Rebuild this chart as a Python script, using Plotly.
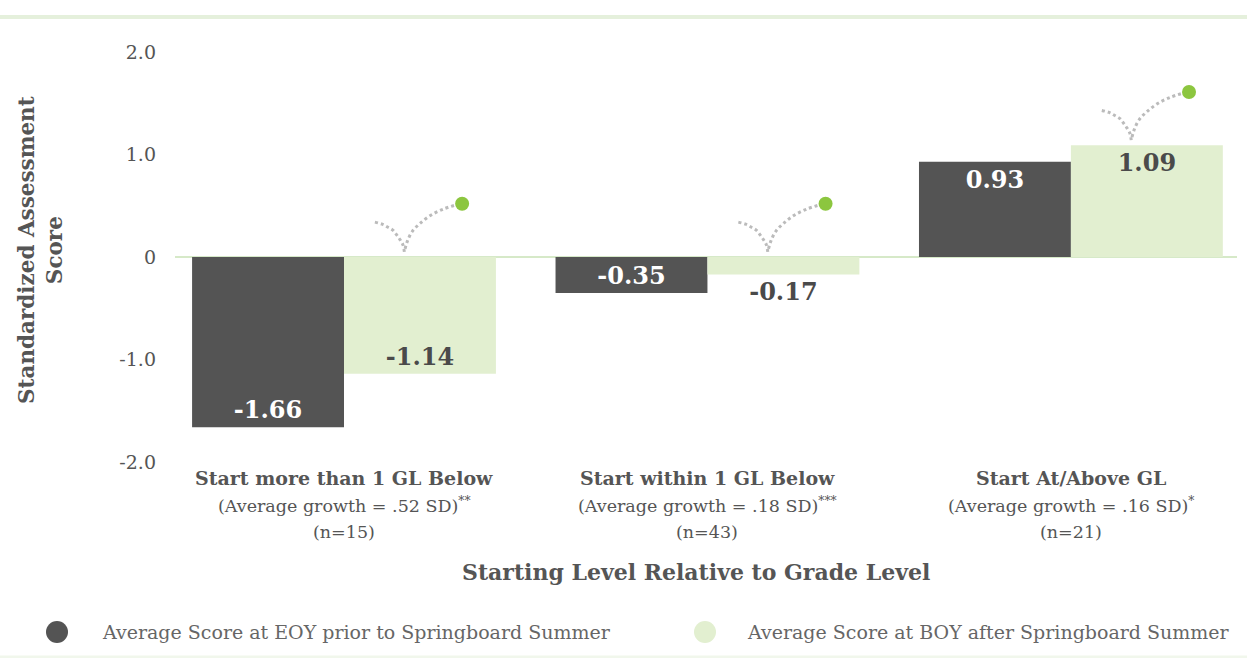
import plotly.graph_objects as go

# Score data by starting level
categories = ["Start more than 1 GL Below", "Start within 1 GL Below", "Start At/Above GL"]
growth_notes = ["(Average growth = .52 SD)<sup>**</sup>",
                "(Average growth = .18 SD)<sup>***</sup>",
                "(Average growth = .16 SD)<sup>*</sup>"]
sample_sizes = ["(n=15)", "(n=43)", "(n=21)"]
eoy_scores = [-1.66, -0.35, 0.93]
boy_scores = [-1.14, -0.17, 1.09]
series_names = ["Average Score at EOY prior to Springboard Summer",
                "Average Score at BOY after Springboard Summer"]
y_tick_vals = [2, 1, 0, -1, -2]
y_tick_text = ["2.0", "1.0", "0", "-1.0", "-2.0"]

DARK = "#545454"
LIGHT = "#e2efd0"
GREEN = "#8cc63f"
TEXT = "#555555"
FONT = "DejaVu Serif"

W, H = 1247, 658
M_L, M_R, M_T, M_B = 175, 10, 52, 196
PLOT_W = W - M_L - M_R
PLOT_H = H - M_T - M_B

x_pos = list(range(len(categories)))

fig = go.Figure()

fig.add_trace(go.Bar(
    x=x_pos, y=eoy_scores, name=series_names[0], marker_color=DARK,
    marker_line_width=0, texttemplate="%{y:.2f}", textposition="inside",
    insidetextanchor="end", constraintext="none",
    textfont=dict(family=FONT, size=24, color="white", weight="bold"),
    showlegend=False, hoverinfo="skip",
))

boy_positions = ["inside" if abs(v) > 0.3 else "outside" for v in boy_scores]
fig.add_trace(go.Bar(
    x=x_pos, y=boy_scores, name=series_names[1], marker_color=LIGHT,
    marker_line_width=0, texttemplate="%{y:.2f}", textposition=boy_positions,
    insidetextanchor="end", constraintext="none", cliponaxis=False,
    textfont=dict(family=FONT, size=24, color="#4a4a4a", weight="bold"),
    showlegend=False, hoverinfo="skip",
))

# "bounce" icon: dotted path dipping to the bar then rising to a green dot
icon_left = [(0.085, 0.34), (0.105, 0.32), (0.121, 0.29), (0.135, 0.26),
             (0.146, 0.21), (0.154, 0.17), (0.162, 0.12), (0.166, 0.05)]
icon_right = [(0.168, 0.08), (0.175, 0.16), (0.188, 0.25), (0.210, 0.33),
              (0.240, 0.41), (0.275, 0.47), (0.310, 0.51)]
icon_dot = (0.325, 0.52)
for i, v in enumerate(boy_scores):
    base = max(0.0, v)
    for arm in (icon_left, icon_right):
        fig.add_trace(go.Scatter(
            x=[i + dx for dx, _ in arm], y=[base + dy for _, dy in arm],
            mode="lines", line=dict(color="#bbbbbb", width=3, dash="dot", shape="spline"),
            showlegend=False, hoverinfo="skip",
        ))
    fig.add_trace(go.Scatter(
        x=[i + icon_dot[0]], y=[base + icon_dot[1]], mode="markers",
        marker=dict(color=GREEN, size=14, line_width=0),
        showlegend=False, hoverinfo="skip",
    ))


def px_x(px):
    return (px - M_L) / PLOT_W


def px_y(py):
    return (H - M_B - py) / PLOT_H


annotations = []
for i, cat in enumerate(categories):
    annotations.append(dict(x=i, y=px_y(478), xref="x", yref="paper", text=f"<b>{cat}</b>",
                            showarrow=False, yanchor="middle",
                            font=dict(family=FONT, size=19, color=TEXT)))
    annotations.append(dict(x=i, y=px_y(505), xref="x", yref="paper", text=growth_notes[i],
                            showarrow=False, yanchor="middle",
                            font=dict(family=FONT, size=17.5, color=TEXT)))
    annotations.append(dict(x=i, y=px_y(532), xref="x", yref="paper", text=sample_sizes[i],
                            showarrow=False, yanchor="middle",
                            font=dict(family=FONT, size=17.5, color=TEXT)))

annotations.append(dict(x=px_x(696), y=px_y(572), xref="paper", yref="paper",
                        text="<b>Starting Level Relative to Grade Level</b>",
                        showarrow=False, yanchor="middle",
                        font=dict(family=FONT, size=22, color=TEXT)))
annotations.append(dict(x=px_x(40), y=px_y(250), xref="paper", yref="paper",
                        text="<b>Standardized Assessment<br>Score</b>", textangle=-90,
                        showarrow=False, xanchor="center", yanchor="middle",
                        font=dict(family=FONT, size=21.5, color=TEXT)))

shapes = []

# zero baseline
shapes.append(dict(type="line", xref="paper", yref="y", x0=0, x1=1, y0=0, y1=0,
                   line=dict(color="#d6e9c8", width=2), layer="below"))

# legend drawn as circles with captions
legend_items = [(57, 100, DARK), (705, 745, LIGHT)]
legend_y = 632
r = 11
for (cx, tx, col), name in zip(legend_items, series_names):
    shapes.append(dict(type="circle", xref="paper", yref="paper",
                       x0=px_x(cx - r), x1=px_x(cx + r),
                       y0=px_y(legend_y + r), y1=px_y(legend_y - r),
                       fillcolor=col, line_width=0, layer="above"))
    annotations.append(dict(x=px_x(tx), y=px_y(legend_y), xref="paper", yref="paper",
                            text=name, showarrow=False, xanchor="left", yanchor="middle",
                            font=dict(family=FONT, size=19, color="#666666")))

# decorative rules at top and bottom
shapes.append(dict(type="line", xref="paper", yref="paper", x0=px_x(0), x1=px_x(W),
                   y0=px_y(17), y1=px_y(17), line=dict(color="#e5f0dc", width=4)))
shapes.append(dict(type="line", xref="paper", yref="paper", x0=px_x(0), x1=px_x(W),
                   y0=px_y(657), y1=px_y(657), line=dict(color="#f1f7ec", width=3)))

fig.update_layout(
    width=W, height=H,
    margin=dict(l=M_L, r=M_R, t=M_T, b=M_B),
    paper_bgcolor="white", plot_bgcolor="white",
    barmode="group", bargap=0.164, bargroupgap=0,
    showlegend=False,
    annotations=annotations, shapes=shapes,
    font=dict(family=FONT, color=TEXT),
)
fig.update_xaxes(range=[-0.465, 2.457], showticklabels=False, showgrid=False,
                 zeroline=False, showline=False, ticks="")
fig.update_yaxes(range=[-2, 2], tickvals=y_tick_vals, ticktext=y_tick_text,
                 showgrid=False, zeroline=False, showline=False, ticks="",
                 ticklabelstandoff=18,
                 tickfont=dict(family=FONT, size=19, color=TEXT))

fig.write_html("out.html")
